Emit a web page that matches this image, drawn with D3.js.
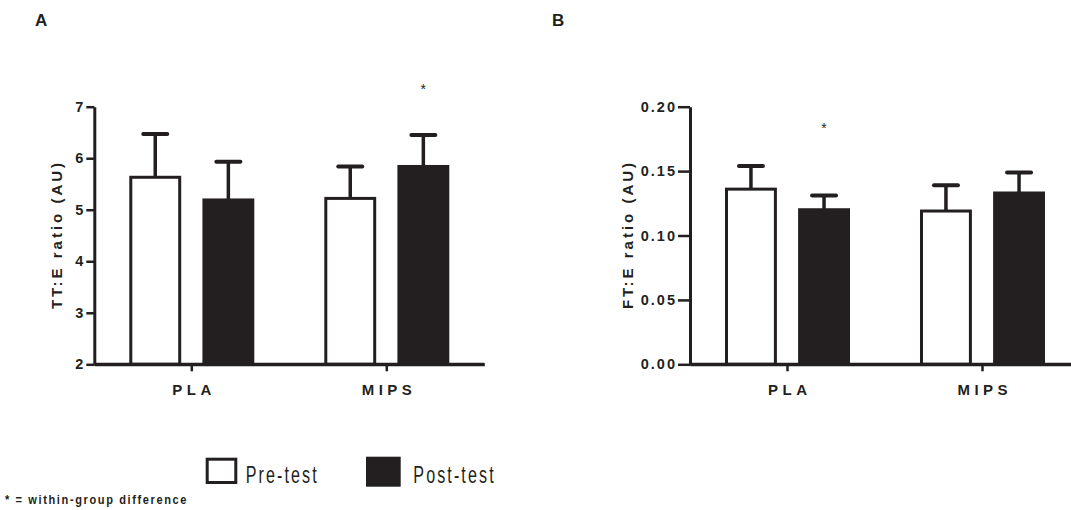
<!DOCTYPE html>
<html>
<head>
<meta charset="utf-8">
<script src="https://cdn.jsdelivr.net/npm/d3@7"></script>
<style>
    body { margin: 0; background: #fff; }
    svg { display: block; font-family: "Liberation Sans", Arial, sans-serif; }
</style>
</head>
<body>
<script>
    "use strict";
    // data
    const groups = ["PLA", "MIPS"];
    const series = ["Pre-test", "Post-test"];

    const ttePre = [5.63, 5.22];
    const ttePreSD = [0.84, 0.62];
    const ttePost = [5.19, 5.84];
    const ttePostSD = [0.74, 0.61];
    const tteTicks = [2, 3, 4, 5, 6, 7];

    const ftePre = [0.136, 0.119];
    const ftePreSD = [0.018, 0.020];
    const ftePost = [0.120, 0.133];
    const ftePostSD = [0.011, 0.016];
    const fteTicks = [0, 0.05, 0.10, 0.15, 0.20];

    const ink = "#231f20";
    const W = 1071, H = 510;

    const svg = d3.select("body").append("svg")
        .attr("width", W).attr("height", H);

    function drawPanel(opt) {
        const g = svg.append("g");
        const y = d3.scaleLinear().domain(opt.domain).range([364.3, 106.7]);
        const x0 = d3.scaleBand().domain(groups).range([opt.left, opt.left + 390]);
        const x1 = d3.scaleBand().domain(series).range([35, 160]).paddingInner(0.29);

        // y axis
        const yAxis = d3.axisLeft(y).tickValues(opt.ticks).tickFormat(opt.fmt)
            .tickSize(opt.tickLen).tickSizeOuter(0).tickPadding(3);
        const ya = g.append("g").attr("transform", "translate(" + opt.left + ",0)").call(yAxis);
        ya.select(".domain").attr("stroke", ink).attr("stroke-width", 3);
        ya.selectAll(".tick line").attr("stroke", ink).attr("stroke-width", 2.5);
        ya.selectAll(".tick text").attr("fill", ink)
            .style("font-size", "14.5px").style("font-weight", "bold")
            .style("letter-spacing", opt.tickSpacing + "px")
            .attr("dx", opt.tickSpacing);

        // x axis
        const xAxis = d3.axisBottom(x0).tickSize(7).tickSizeOuter(0).tickPadding(13.5);
        const xa = g.append("g").attr("transform", "translate(0,364.3)").call(xAxis);
        xa.select(".domain").attr("stroke", ink).attr("stroke-width", 3);
        xa.selectAll(".tick line").attr("stroke", ink).attr("stroke-width", 2.5);
        xa.selectAll(".tick text").attr("fill", ink)
            .style("font-size", "15px").style("font-weight", "bold")
            .style("letter-spacing", "4.5px").attr("dx", 2.25);

        // y label
        g.append("text")
            .attr("transform", "translate(" + opt.labelX + ",236) rotate(-90)")
            .attr("text-anchor", "middle")
            .attr("fill", ink)
            .style("font-size", "15px").style("font-weight", "bold")
            .style("letter-spacing", "3px").attr("dx", 1.5)
            .text(opt.label);

        // panel letter
        g.append("text").attr("x", opt.letterX).attr("y", 26)
            .attr("fill", ink).style("font-size", "17px").style("font-weight", "bold")
            .text(opt.letter);

        const rows = [];
        groups.forEach((grp, i) => {
            rows.push({ g: grp, s: series[0], v: opt.pre[i], sd: opt.preSD[i] });
            rows.push({ g: grp, s: series[1], v: opt.post[i], sd: opt.postSD[i] });
        });

        const bw = x1.bandwidth();
        const y0 = y(opt.domain[0]);

        // error bars (drawn first so bar tops cover the joint)
        const eb = g.selectAll(".err").data(rows).enter().append("g").attr("class", "err");
        eb.append("line")
            .attr("x1", d => x0(d.g) + x1(d.s) + bw / 2)
            .attr("x2", d => x0(d.g) + x1(d.s) + bw / 2)
            .attr("y1", d => y(d.v)).attr("y2", d => y(d.v + d.sd))
            .attr("stroke", ink).attr("stroke-width", 3.5);
        eb.append("line")
            .attr("x1", d => x0(d.g) + x1(d.s) + bw / 2 - 12)
            .attr("x2", d => x0(d.g) + x1(d.s) + bw / 2 + 12)
            .attr("y1", d => y(d.v + d.sd)).attr("y2", d => y(d.v + d.sd))
            .attr("stroke", ink).attr("stroke-width", 4).attr("stroke-linecap", "round");

        // bars
        g.selectAll(".bar").data(rows).enter().append("rect").attr("class", "bar")
            .attr("x", d => d.s === series[0] ? x0(d.g) + x1(d.s) + 1.5 : x0(d.g) + x1(d.s))
            .attr("width", d => d.s === series[0] ? bw - 3 : bw)
            .attr("y", d => d.s === series[0] ? y(d.v) : y(d.v) - 1.5)
            .attr("height", d => d.s === series[0] ? y0 - y(d.v) : y0 - y(d.v) + 1.5)
            .attr("fill", d => d.s === series[0] ? "#fff" : ink)
            .attr("stroke", d => d.s === series[0] ? ink : "none")
            .attr("stroke-width", 3);

        // redraw axis line over bar bottoms
        g.append("line").attr("x1", opt.left).attr("x2", opt.left + 390)
            .attr("y1", y0).attr("y2", y0).attr("stroke", ink).attr("stroke-width", 3);

        // significance marks
        g.selectAll(".sig").data(opt.sig).enter().append("text").attr("class", "sig")
            .attr("x", d => x0(d.g) + x1(d.s) + bw / 2)
            .attr("y", d => y(d.v) + 7)
            .attr("text-anchor", "middle").attr("fill", ink)
            .style("font-size", "14px")
            .text("*");
    }

    drawPanel({
        left: 94.3, domain: [2, 7], ticks: tteTicks, fmt: d3.format("d"),
        tickLen: 8, tickSpacing: 0, label: "TT:E ratio (AU)", labelX: 62,
        letter: "A", letterX: 35,
        pre: ttePre, preSD: ttePreSD, post: ttePost, postSD: ttePostSD,
        sig: [{ g: "MIPS", s: "Post-test", v: 7.38 }]
    });

    drawPanel({
        left: 690, domain: [0, 0.2], ticks: fteTicks, fmt: d3.format(".2f"),
        tickLen: 12, tickSpacing: 2, label: "FT:E ratio (AU)", labelX: 633,
        letter: "B", letterX: 552,
        pre: ftePre, preSD: ftePreSD, post: ftePost, postSD: ftePostSD,
        sig: [{ g: "PLA", s: "Post-test", v: 0.185 }]
    });

    // legend
    const legend = svg.append("g");
    legend.append("rect").attr("x", 207.2).attr("y", 459.2).attr("width", 28.6).attr("height", 23.3)
        .attr("fill", "#fff").attr("stroke", ink).attr("stroke-width", 3);
    legend.append("rect").attr("x", 366).attr("y", 456.7).attr("width", 34.7).attr("height", 30)
        .attr("fill", ink);
    legend.selectAll(".leg").data([{ t: series[0], x: 245.7 }, { t: series[1], x: 413.3 }])
        .enter().append("text").attr("class", "leg")
        .attr("transform", d => "translate(" + d.x + ",483.3) scale(0.7,1)")
        .attr("fill", ink).style("font-size", "23px").style("letter-spacing", "3px")
        .text(d => d.t);

    // footnote
    svg.append("text").attr("transform", "translate(5,504) scale(0.85,1)")
        .attr("fill", ink).style("font-size", "13px").style("font-weight", "bold")
        .style("letter-spacing", "1.9px")
        .text("* = within-group difference");
</script>
</body>
</html>
